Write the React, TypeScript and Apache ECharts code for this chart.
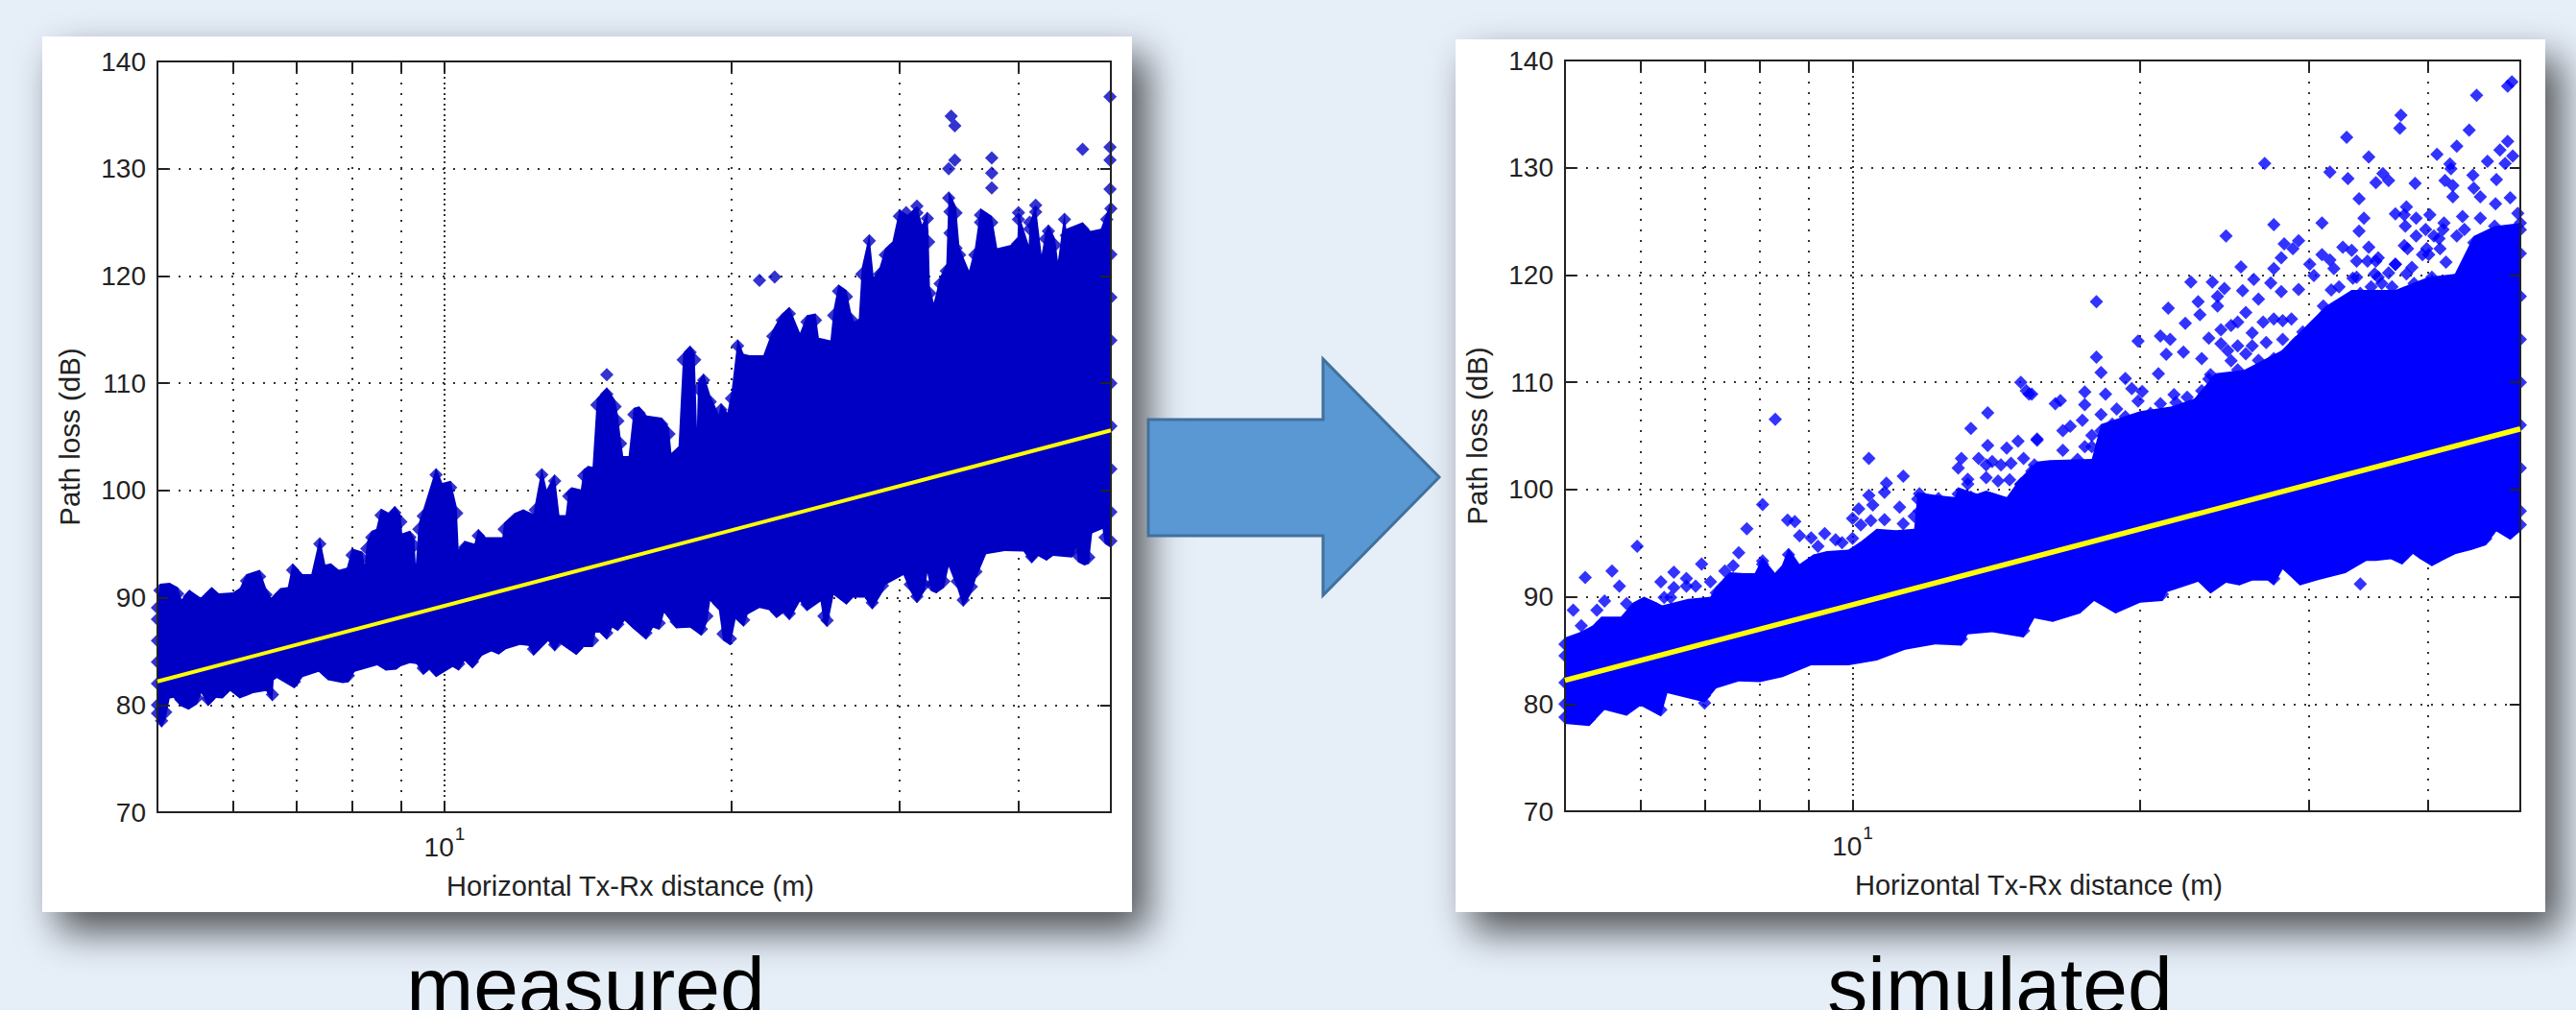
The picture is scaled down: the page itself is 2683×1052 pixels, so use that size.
import React, { useEffect, useRef } from "react";
import * as echarts from "echarts";

const xTicks = [6, 7, 8, 9, 10, 20, 30, 40];
const xLabels = [10];
const yMin = 70;
const yMax = 140;

const fitX = [5, 50];
const measuredFitY = [82.2, 105.6];
const simulatedFitY = [82.2, 105.65];

// [distance m, path loss dB]
const measuredUpper = [[5,89.7],[5.03,91.3],[5.15,91.4],[5.25,91],[5.3,89.85],[5.4,90.75],[5.55,90],[5.7,91],[5.8,90.4],[6,90.5],[6.1,90.9],[6.2,92.2],[6.4,92.6],[6.5,90.9],[6.58,90],[6.73,90.9],[6.85,91],[6.93,93.2],[7.1,92.2],[7.25,92.2],[7.4,95.65],[7.5,93.1],[7.6,93.2],[7.75,92.6],[7.9,92.8],[8,94.6],[8.2,94.3],[8.25,93.1],[8.29,95.2],[8.39,96.25],[8.48,96.4],[8.58,98.3],[8.75,97.9],[8.87,98.55],[9,97.7],[9.03,96],[9.2,96.25],[9.3,95.5],[9.33,93.1],[9.4,97],[9.5,98.25],[9.8,102.1],[9.95,100.7],[10.15,100.9],[10.3,98.5],[10.35,94.5],[10.5,95.3],[10.75,95.05],[10.85,96.4],[11.05,95.65],[11.5,95.65],[11.55,97],[11.85,97.9],[12.1,98.25],[12.4,97.8],[12.45,98.8],[12.65,102.1],[12.8,100.1],[13.05,101.5],[13.2,97.7],[13.4,97.7],[13.5,100.1],[13.6,100.3],[13.9,100.1],[14,102],[14.15,102.3],[14.3,102.2],[14.45,108.6],[14.8,109.6],[15.1,108.45],[15.2,107.1],[15.3,105],[15.4,103.2],[15.6,103.2],[15.8,107.7],[16,107.85],[16.3,107],[16.9,106.8],[17.2,105.9],[17.3,103.5],[17.6,104.1],[17.8,112.8],[18.1,113.5],[18.3,112.8],[18.4,105.9],[18.45,110.1],[18.7,110.9],[19,108.9],[19.4,107.1],[19.5,108.15],[19.8,107.25],[20,109.2],[20.3,114.1],[20.6,112.75],[20.9,112.6],[21.6,112.6],[22.1,115],[22.6,116.5],[23,117.1],[23.6,114.7],[24,116.35],[24.5,116.5],[24.7,114.25],[25.4,114],[25.6,116.95],[25.9,119.2],[26.4,118.7],[26.7,116.6],[26.9,115.75],[27.2,116],[27.4,120.8],[27.9,123.9],[28.2,119.9],[28.6,120.8],[29,122.6],[29.5,123.2],[30,126.2],[30.6,125.7],[31.3,126.5],[31.7,124.8],[32.1,126],[32.2,123.8],[32.3,119],[32.6,117.5],[33.1,119.9],[33.6,121.1],[33.8,127.9],[34.4,126.5],[34.7,122.6],[35.5,120.5],[36,122.6],[36.5,126.3],[37.5,125.6],[38,122.6],[39.3,122.9],[39.9,123.6],[40,125.9],[41,122.9],[41.1,125],[41.7,126.6],[42.3,122],[42.7,124.1],[43,124.8],[43.7,123.5],[44,121.4],[44.7,125.9],[44.9,124.4],[46.7,125],[47.6,124.2],[48.8,124.4],[49.5,125.9],[50,126.9]];
const measuredLower = [[5,78.6],[5.05,77.9],[5.1,78.7],[5.15,80.6],[5.2,80.65],[5.29,79.9],[5.39,79.55],[5.5,80.05],[5.56,81.1],[5.65,79.9],[5.76,80.65],[5.85,80.6],[5.96,81.3],[6.1,80.6],[6.3,81.1],[6.5,81.3],[6.6,80.35],[6.62,82.3],[6.67,82.5],[6.96,81.55],[7.1,82.6],[7.38,83.1],[7.55,82.3],[7.82,82.05],[7.93,82.1],[8.05,83.1],[8.5,83.7],[8.68,83.2],[8.9,83.3],[9,83.6],[9.2,83.9],[9.35,83.8],[9.5,82.8],[9.65,83.3],[9.8,82.6],[10.2,83.55],[10.35,83.2],[10.5,84.1],[10.7,83.4],[10.95,84.6],[11.2,85],[11.4,84.7],[11.6,85.2],[12,85.6],[12.25,85.5],[12.4,84.6],[12.85,85.95],[13.05,85],[13.2,85.75],[13.75,84.65],[14,85.4],[14.3,85.4],[14.4,86.75],[14.55,86.75],[14.8,86.1],[15,87.2],[15.2,86.9],[15.45,87.85],[15.8,87.05],[16.27,86.1],[16.55,87.2],[16.8,87],[17,88.6],[17.5,87.15],[18.1,87.2],[18.6,86.45],[18.85,87.65],[19,89.7],[19.4,88.85],[19.6,86],[19.95,85.55],[20.2,88],[20.6,87.3],[20.8,88.45],[21.4,89.05],[21.9,88.85],[22.3,88.1],[22.7,88.6],[23,87.9],[23.6,89.65],[24,88.75],[24.8,89.65],[25,87.65],[25.2,87.25],[25.6,90.25],[26.4,89.35],[26.8,90],[27.6,90],[28.1,88.9],[28.8,90.5],[29,91.2],[30.3,92.1],[30.8,90.6],[31.3,89.5],[31.9,90.6],[32.1,92.3],[32.4,90.6],[32.8,90.4],[33.4,90.9],[33.8,92.9],[34.5,90.9],[35,89.15],[35.7,90.4],[36.1,91.8],[37,94.05],[38.7,94.35],[40.5,94.3],[41.3,93.2],[41.9,93.9],[42.8,93.45],[43.5,93.9],[45.5,93.75],[46,94.6],[46.2,93.3],[46.9,93],[47.4,93.15],[47.8,96],[49,96.4],[49.3,95],[50,94.65]];
const measuredOutliers = [[14.8,110.8],[33.8,130],[34,134.9],[34.3,134],[34.3,130.8],[37.5,131],[37.5,129.6],[37.5,128.2],[46.7,131.8],[49.9,136.7],[49.9,132],[49.9,130.8],[49.9,128.1],[31.3,126.5],[30.5,125.9],[21.4,119.6],[22.2,119.9],[33.9,126],[33.9,124],[34.4,122.6],[36.5,125],[41.1,125],[41.7,126.6],[40,125.9],[5,88],[5,86],[5,84],[5,82],[5,80],[50,122],[50,118],[50,114],[50,110],[50,106],[50,102],[50,98]];

const simulatedUpper = [[5,86.2],[5.18,86.7],[5.34,87.3],[5.46,88.15],[5.72,88.15],[5.9,89.5],[6.05,90],[6.23,89.5],[6.32,89.2],[6.73,89.8],[7.1,90],[7.2,91],[7.44,92.3],[7.7,92.2],[7.9,92.2],[8.05,93.65],[8.3,92.2],[8.43,92.9],[8.57,94.55],[8.8,93.05],[9.1,93.95],[9.4,94.25],[9.9,94.4],[10.2,95.15],[10.6,96.35],[11.1,96.2],[11.6,96.35],[11.7,99.75],[12.3,99.45],[12.8,99.3],[12.9,100.2],[13.5,99.6],[13.8,99.9],[14.5,99.3],[15,101.1],[15.6,102.6],[16.1,102.75],[17.8,102.85],[18.2,106.1],[20,107.3],[21.6,107.75],[22.8,108.5],[24,110.85],[25.7,111.15],[28.1,112.95],[31.3,117.1],[33.3,118.6],[37,118.6],[40,119.8],[42.7,120.1],[44.7,123.65],[47,124.55],[50,124.85]];
const simulatedLower = [[5,78.15],[5.3,77.95],[5.5,79.45],[5.8,78.9],[6,79.85],[6.3,78.85],[6.4,81],[7,80.15],[7.2,81.45],[7.6,82.1],[8,82.05],[8.45,82.5],[9.05,83.6],[9.9,83.6],[10.6,84.05],[11.35,85.05],[12.2,85.55],[13,85.45],[13.2,86.5],[14,86.7],[15.1,86.2],[15.5,88],[16.2,87.65],[17.3,88.45],[17.9,89.6],[18.85,88.45],[20,89.45],[21.1,89.6],[21.3,90.4],[23,91.4],[23.7,90.3],[24.6,91.3],[25.4,91.05],[26.2,91.5],[27.2,91.5],[27.6,91.05],[28.2,92.55],[29.4,91.05],[30.7,91.55],[32.8,92.2],[34.5,93.35],[35.3,93.35],[36.6,93.5],[37.6,93],[38.6,94],[39.3,93.5],[40.4,92.85],[41.7,93.5],[42.8,94],[44.4,94.35],[46,94.8],[47.2,96.1],[48.8,95.3],[50,96.1]];
const simulatedOutliers = [[5.1,88.75],[5.2,87.3],[5.25,91.8],[5.4,88.75],[5.5,89.6],[5.6,92.4],[5.7,91],[5.8,89.35],[5.95,94.7],[6.3,91.4],[6.35,89.95],[6.45,89.95],[6.5,92.3],[6.5,90.85],[6.7,91.7],[6.7,91],[6.85,91],[6.95,93.05],[7.1,91.4],[7.35,92.4],[7.5,92.9],[7.6,94.1],[7.75,96.35],[8.05,98.6],[8.05,93.35],[8.3,106.55],[8.55,97.15],[8.7,97],[8.8,95.7],[9.05,95.5],[9.2,94.7],[9.35,95.9],[9.6,95.3],[9.75,95.05],[10,97.3],[10,95.45],[10.15,98.2],[10.2,96.7],[10.4,102.9],[10.4,99.45],[10.5,98.55],[10.45,97.1],[10.8,97.2],[10.8,99.75],[10.85,100.6],[11.3,101.25],[11.2,98.35],[11.3,96.8],[11.75,99.6],[12,98.95],[11.6,97.5],[12.3,99.15],[13,102.9],[12.9,102],[13.2,100.95],[13.2,100.5],[13.3,105.7],[13.55,102.9],[13.85,107.15],[13.85,104.1],[13.8,102.3],[13.8,101.1],[14,98.9],[14.5,103.85],[14.9,104.5],[15.6,104.7],[15,110],[15.2,109.2],[15.4,108.9],[14,102.6],[14.3,102.3],[14.65,102.45],[15.1,102.9],[15.5,102.3],[15.3,108.9],[16.3,108],[16.5,108.3],[16.6,105.5],[16.9,105.9],[16.6,103.65],[17.5,104],[15.6,104.6],[17.5,109.1],[17.5,107.9],[17.4,106.45],[17.8,105.05],[18,117.5],[18,112.35],[18.2,110.9],[18.2,107],[18.4,108.9],[18.9,107.5],[19.3,110.35],[19.6,109.4],[20.1,109.15],[19.9,113.85],[19.9,108.25],[20.9,110.8],[21,114.3],[21.5,114],[21.3,112.6],[22.2,112.8],[21.4,116.9],[22.3,115.5],[21.7,108.85],[22.6,119.35],[23,117.5],[23.1,116.3],[23.2,112.2],[23.6,114.1],[24.3,113.6],[23.8,119.35],[24.1,118],[24.1,117.1],[24.5,118.75],[24.6,123.65],[25.6,118.55],[26.3,119.6],[25.8,116.5],[26.6,117.75],[25.5,120.75],[27,130.4],[27.4,119.25],[27.6,124.7],[27.6,120.6],[28.1,121.6],[28.1,118.45],[28.3,122.9],[28.9,122.45],[29.3,123.2],[29.3,118.65],[30.1,121],[30.4,119.95],[31,124.85],[31,121.9],[31.6,121.4],[31.7,118.6],[31.6,129.6],[31.9,120.6],[32.6,122.6],[32.9,132.85],[33,129],[33.3,122.3],[33.9,127.1],[33.9,124.1],[34.3,125.3],[34.7,131],[34.7,122.6],[35.3,128.6],[35.9,129.45],[36.4,128.8],[37,125.7],[38,126.35],[37.5,134.9],[37.4,133.7],[38.8,128.55],[37.9,124.55],[40.9,131.25],[41.7,128.8],[42.2,130.35],[42.3,129.9],[42.5,128.35],[42.5,127.3],[42.9,132],[44.2,133.5],[44.6,129.3],[44.7,128.1],[45,136.75],[45.4,127.3],[46.2,130.6],[47.2,128.9],[47.6,131.65],[48.5,132.45],[49.1,131.1],[48.2,130.4],[48.8,127.2],[48.5,137.6],[49,138],[37.8,125.6],[38.9,125.3],[40.2,125.6],[41.6,124.85],[43.5,125.45],[45.4,125.3],[47.1,126.65],[49.7,125.75],[41.1,123.4],[37.8,122.75],[39.9,122.45],[35.3,121.3],[37,121],[33.7,121.3],[38.5,120.7],[33.7,119.8],[35.5,119.8],[34,91.2],[7,80.1]];
const simulatedClusters = [[23.7,110.7],[24.3,114.9],[24.9,115.3],[25.3,115.6],[25.8,112.65],[26.2,114.6],[26.9,115.6],[27.6,115.9],[28.2,115.75],[28.8,115.9],[29.6,114.7],[30.3,115.2],[24.9,112],[25.3,111.15],[26.6,112.05],[27.6,112.2],[28.6,111.45],[29.8,112.65],[31.1,112.05],[32.3,111.9],[30.1,114.1],[29.1,113.7],[28.2,114],[27.1,113.7],[26.2,113.4],[25.3,113.4],[24.7,112.95],[31.1,117.1],[31.7,116.2],[32.9,116.8],[34,118.3],[34.9,118.9],[35.8,119.2],[36.7,118.9],[37.7,118],[38.7,119.2],[39.8,118.9],[40.4,119.8],[32.3,118.9],[33.4,119.7],[35.2,120.1],[36.4,120.2],[38,120.1],[34.6,121.3],[35.5,121.6],[37,121],[33.7,117.4],[35.2,117.4],[36.4,117.4],[38.1,122.45],[38.9,123.65],[39.8,124.25],[40.6,123.65],[41.5,124.25],[41.2,122.45],[40.1,121.9],[39.5,121.9],[41.8,121.2],[42.9,123.65],[43.7,124.25],[44.8,122.45],[45.2,120.9],[47,124.55],[47.8,122],[49,123.65],[50,124.85],[48.6,120.9],[47.6,121.2],[44,120.4],[46.4,121.9],[44.8,120.2],[11.75,98],[12.2,97.5],[12.8,98.3],[13.3,99.3],[13.6,98.6],[14.2,100.8],[14.6,100.9],[15,100.5],[15.4,101.7],[15.8,101.7],[16.6,102.1],[17.2,102.8],[17.8,104],[18.3,105],[18.7,106.1],[19.3,106.8],[20.5,107.1],[21,108],[21.8,108.1],[22.4,108.6],[23.2,109.2],[23.6,110.3],[5,84.5],[5,82],[5,80],[50,122],[50,118],[50,114],[50,110],[50,106],[50,102],[50,98]];

const FONT = '"Liberation Sans", Arial, sans-serif';
const INK = "#222222";
const PAGE = "#e6eef8";

const frameLine = { show: true, onZero: false, lineStyle: { color: INK, width: 2 } };
const frameTick = { show: true, inside: true, length: 11, lineStyle: { color: INK, width: 2 } };
const dotted = { show: true, lineStyle: { color: "#333333", width: 2, type: [2, 9] } };

function xAxesFor(gridIndex: number) {
  const base = { type: "log", logBase: 10, min: 5, max: 50, gridIndex };
  return [
    {
      ...base, position: "bottom", z: 5, axisLine: frameLine,
      axisTick: { ...frameTick, customValues: xTicks },
      splitLine: { show: false }, minorTick: { show: false },
      axisLabel: {
        customValues: xLabels, margin: 12, hideOverlap: false,
        formatter: () => "{a|10}{b|1}",
        rich: {
          a: { fontFamily: FONT, fontSize: 28, color: INK, padding: [10, 0, 0, 0] },
          b: { fontFamily: FONT, fontSize: 19, color: INK, padding: [0, 0, 18, 1] },
        },
      },
      name: "Horizontal Tx-Rx distance (m)", nameLocation: "middle", nameGap: 62,
      nameTextStyle: { fontFamily: FONT, fontSize: 29, color: INK, padding: [0, 8, 0, 0] },
    },
    {
      ...base, position: "top", z: 5, axisLine: frameLine,
      axisTick: { ...frameTick, customValues: xTicks },
      axisLabel: { show: false }, splitLine: { show: false },
    },
    {
      ...base, position: "bottom", z: 0, axisLine: { show: false, onZero: false },
      axisTick: { show: false, customValues: xTicks }, axisLabel: { show: false },
      splitLine: dotted,
    },
    {
      ...base, position: "bottom", z: 0, axisLine: { show: false, onZero: false },
      axisTick: { show: false, customValues: xLabels }, axisLabel: { show: false },
      splitLine: { show: true, lineStyle: { color: "#333333", width: 2, type: [2, 9], dashOffset: 5.5 } },
    },
  ];
}

function yAxesFor(gridIndex: number) {
  const base = { type: "value", min: yMin, max: yMax, interval: 10, gridIndex };
  return [
    {
      ...base, position: "left", z: 5, axisLine: frameLine, axisTick: frameTick,
      splitLine: { show: false },
      axisLabel: { margin: 12, fontFamily: FONT, fontSize: 28, color: INK },
      name: "Path loss (dB)", nameLocation: "middle", nameGap: 77, nameRotate: 90,
      nameTextStyle: { fontFamily: FONT, fontSize: 29.5, color: INK },
    },
    {
      ...base, position: "right", z: 5, axisLine: frameLine, axisTick: frameTick,
      axisLabel: { show: false }, splitLine: { show: false },
    },
    {
      ...base, position: "left", z: 0, axisLine: { show: false, onZero: false },
      axisTick: { show: false }, axisLabel: { show: false }, splitLine: dotted,
    },
  ];
}

function panelSeries(
  panel: number,
  label: string,
  color: string,
  upper: number[][],
  lower: number[][],
  outliers: number[][],
  fitY: number[],
  fitWidth: number
) {
  const ax = { xAxisIndex: panel * 4, yAxisIndex: panel * 3 };
  const outline = upper.concat(lower.slice().reverse());
  const diamond = { type: "scatter", ...ax, symbol: "diamond", symbolSize: 14, clip: false, silent: true, itemStyle: { color }, z: 3 };
  return [
    {
      type: "custom", name: label + " body", ...ax, z: 3, clip: false, silent: true,
      data: outline,
      encode: { x: 0, y: 1 },
      renderItem: (params: any, api: any) =>
        params.dataIndex === 0
          ? { type: "polygon", shape: { points: outline.map((p) => api.coord(p)) }, style: { fill: color } }
          : null,
    },
    { ...diamond, name: label + " upper", data: upper, symbolOffset: [0, 7] },
    { ...diamond, name: label + " lower", data: lower, symbolOffset: [0, -7] },
    { ...diamond, name: label + " outliers", data: outliers },
    {
      type: "line", name: label + " fit", ...ax, z: 6, clip: false, silent: true, showSymbol: false,
      data: fitX.map((x, i) => [x, fitY[i]]),
      lineStyle: { color: "#ffff00", width: fitWidth },
    },
  ];
}

function card(x: number, y: number, width: number, height: number) {
  return {
    type: "rect", z: -10, silent: true, shape: { x, y, width, height },
    style: { fill: "#ffffff", shadowBlur: 40, shadowColor: "rgba(0,0,0,0.66)", shadowOffsetX: 16, shadowOffsetY: 20 },
  };
}

function caption(text: string, x: number) {
  return {
    type: "text", z: 1, x, y: 1027, silent: true,
    style: { text, fontFamily: FONT, fontSize: 84, fill: "#000000", align: "center", verticalAlign: "middle" },
  };
}

export default function App() {
  const ref = useRef<HTMLDivElement>(null);
  useEffect(() => {
    document.body.style.margin = "0";
    const chart = echarts.init(ref.current!, undefined, { renderer: "svg" });
    chart.setOption({
      animation: false,
      backgroundColor: PAGE,
      grid: [
        { left: 164, top: 64, width: 993, height: 782 },
        { left: 1630, top: 63, width: 995, height: 782 },
      ],
      xAxis: [...xAxesFor(0), ...xAxesFor(1)],
      yAxis: [...yAxesFor(0), ...yAxesFor(1)],
      series: [
        ...panelSeries(0, "measured", "#0000c4", measuredUpper, measuredLower, measuredOutliers, measuredFitY, 4),
        ...panelSeries(1, "simulated", "#0000ff", simulatedUpper, simulatedLower, simulatedOutliers.concat(simulatedClusters), simulatedFitY, 5.5),
      ],
      graphic: {
        elements: [
          card(44, 38, 1135, 912),
          card(1516, 41, 1135, 909),
          {
            type: "polygon", z: 1, silent: true,
            shape: { points: [[1196, 437], [1378, 437], [1378, 374], [1499, 497], [1378, 620], [1378, 558], [1196, 558]] },
            style: { fill: "#5a98d4", stroke: "#41719c", lineWidth: 3 },
          },
          caption("measured", 610),
          caption("simulated", 2083),
        ],
      },
    });
    return () => chart.dispose();
  }, []);
  return <div ref={ref} style={{ position: "fixed", left: 0, top: 0, width: 2683, height: 1052 }} />;
}
